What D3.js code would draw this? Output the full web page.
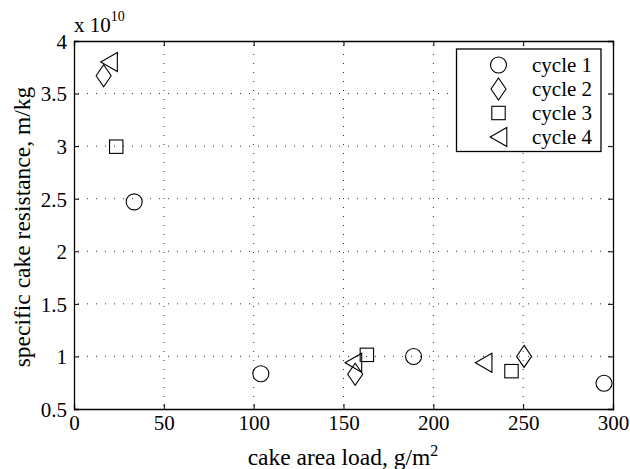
<!DOCTYPE html>
<html><head><meta charset="utf-8">
<script src="https://cdn.jsdelivr.net/npm/d3@7"></script>
<style>body{margin:0;background:#fff}svg{display:block}svg text{font-family:"Liberation Serif","DejaVu Serif",serif !important;fill:#000}</style>
</head><body><svg id="c" width="630" height="469"></svg>
<script>
const seriesNames = ["cycle 1","cycle 2","cycle 3","cycle 4"];
const cycle1X = [33.5, 104, 189, 295];
const cycle1Y = [2.47, 0.835, 1.0, 0.745];
const cycle2X = [16.5, 156.5, 250.5];
const cycle2Y = [3.67, 0.83, 1.0];
const cycle3X = [23.5, 163, 243.5];
const cycle3Y = [2.995, 1.015, 0.86];
const cycle4X = [19.5, 155.5, 228];
const cycle4Y = [3.80, 0.94, 0.94];
const xTicks = [0,50,100,150,200,250,300];
const yTicks = [0.5,1,1.5,2,2.5,3,3.5,4];

const svg = d3.select("#c");
const L=74,R=613,T=41,B=409;
const x = d3.scaleLinear().domain([0,300]).range([L,R]);
const y = d3.scaleLinear().domain([0.5,4]).range([B,T]);
const FF = '"Liberation Serif","DejaVu Serif",serif';

// grid
const g = svg.append("g");
xTicks.slice(1,-1).forEach(v=>g.append("line").attr("x1",x(v)).attr("x2",x(v)).attr("y1",T+4).attr("y2",B)
  .attr("stroke","#333").attr("stroke-width",1).attr("stroke-dasharray","1,8"));
yTicks.slice(1,-1).forEach(v=>g.append("line").attr("x1",L+4).attr("x2",R).attr("y1",y(v)).attr("y2",y(v))
  .attr("stroke","#333").attr("stroke-width",1).attr("stroke-dasharray","1,8"));

// axes
const fs=21;
const xa = svg.append("g").attr("transform",`translate(0,${B})`)
  .call(d3.axisBottom(x).tickValues(xTicks).tickSize(-5).tickPadding(5).tickFormat(d3.format("d")));
const xt = svg.append("g").attr("transform",`translate(0,${T})`)
  .call(d3.axisTop(x).tickValues(xTicks).tickSize(-5).tickFormat(""));
const ya = svg.append("g").attr("transform",`translate(${L},0)`)
  .call(d3.axisLeft(y).tickValues(yTicks).tickSize(-5).tickPadding(7).tickFormat(d=>String(d)));
const yr = svg.append("g").attr("transform",`translate(${R},0)`)
  .call(d3.axisRight(y).tickValues(yTicks).tickSize(-5).tickFormat(""));
[xa,xt,ya,yr].forEach(a=>{a.attr("font-family",FF).attr("font-size",fs);
  a.select(".domain").attr("stroke","#000").attr("stroke-width",1.3);
  a.selectAll(".tick line").attr("stroke","#000");
  a.selectAll("text").attr("font-family",FF).attr("font-size",fs).attr("fill","#000");});
xa.selectAll("text").attr("dy","0.75em");
ya.selectAll("text").attr("dy","0.35em");

// markers
const sym = {
  circle:(s)=>{s.append("circle").attr("r",8);},
  diamond:(s)=>{s.append("path").attr("d","M0,-11L7.5,0L0,11L-7.5,0Z");},
  square:(s)=>{s.append("rect").attr("x",-6.7).attr("y",-6.7).attr("width",13.4).attr("height",13.4);},
  tri:(s)=>{s.append("path").attr("d","M-8.3,0L8.3,-9.5L8.3,9.5Z");}
};
const series = [
  {xs:cycle1X,ys:cycle1Y,m:"circle"},
  {xs:cycle2X,ys:cycle2Y,m:"diamond"},
  {xs:cycle3X,ys:cycle3Y,m:"square"},
  {xs:cycle4X,ys:cycle4Y,m:"tri"}
];
series.forEach(s=>{
  s.xs.forEach((xv,i)=>{
    const p = svg.append("g").attr("transform",`translate(${x(xv)},${y(s.ys[i])})`)
      .attr("fill","none").attr("stroke","#000").attr("stroke-width",1.1);
    sym[s.m](p);
  });
});

// legend
svg.append("rect").attr("x",456.5).attr("y",49).attr("width",144.5).attr("height",102.5)
  .attr("fill","#fff").attr("stroke","#000").attr("stroke-width",1.3);
const ly=[65,89,113,137];
series.forEach((s,i)=>{
  const p = svg.append("g").attr("transform",`translate(498.5,${ly[i]})`)
    .attr("fill","none").attr("stroke","#000").attr("stroke-width",1.1);
  sym[s.m](p);
  svg.append("text").attr("x",532).attr("y",ly[i]).attr("dy","0.33em").attr("font-family",FF).attr("font-size",21).text(seriesNames[i]);
});

// labels
svg.append("text").attr("x",343).attr("y",465).attr("text-anchor","middle").attr("font-family",FF).attr("font-size",23.5)
  .html('cake area load, g/m<tspan dy="-9" font-size="16">2</tspan>');
svg.append("text").attr("transform",`translate(30,227) rotate(-90)`).attr("text-anchor","middle")
  .attr("font-family",FF).attr("font-size",23.5).text("specific cake resistance, m/kg");
svg.append("text").attr("x",74).attr("y",32).attr("font-family",FF).attr("font-size",21)
  .html('x 10<tspan dy="-11" font-size="14">10</tspan>');
</script></body></html>
